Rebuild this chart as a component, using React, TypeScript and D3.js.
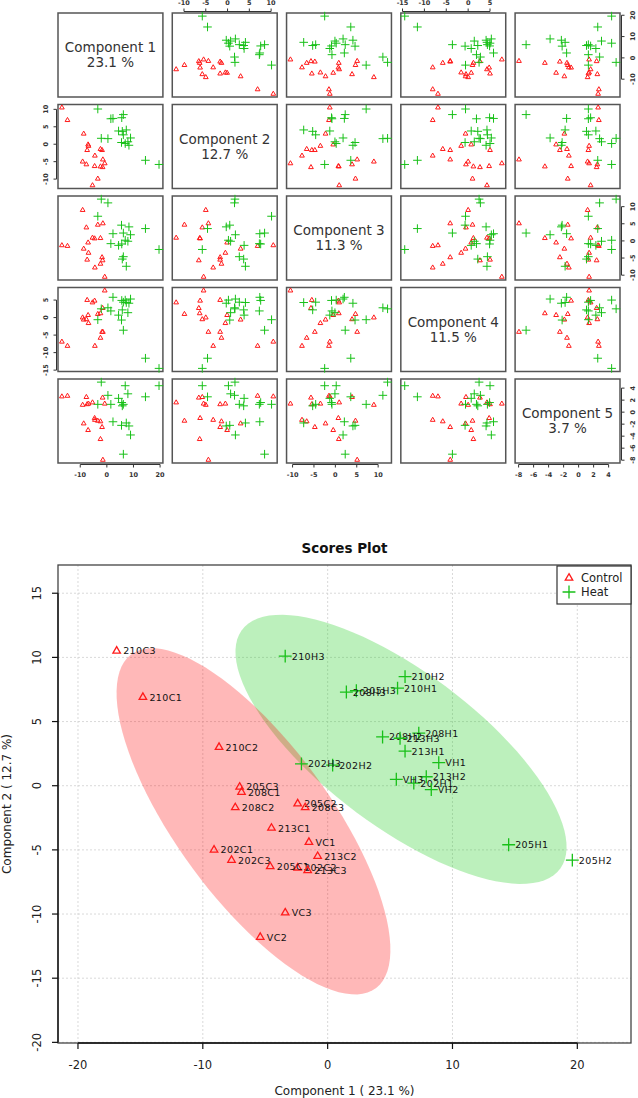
import React from 'react';
import * as d3 from 'd3';

// Samples, groups and PCA scores
const sampleNames = [
  '202C1', '202C2', '202C3', '205C1', '205C2', '205C3', '208C1', '208C2', '208C3',
  '210C1', '210C2', '210C3', '213C1', '213C2', '213C3', 'VC1', 'VC2', 'VC3',
  '202H1', '202H2', '202H3', '205H1', '205H2', '205H3', '208H1', '208H2', '208H3',
  '210H1', '210H2', '210H3', '213H1', '213H2', '213H3', 'VH1', 'VH2', 'VH3',
];
const sampleGroups = [
  'Control', 'Control', 'Control', 'Control', 'Control', 'Control', 'Control', 'Control', 'Control',
  'Control', 'Control', 'Control', 'Control', 'Control', 'Control', 'Control', 'Control', 'Control',
  'Heat', 'Heat', 'Heat', 'Heat', 'Heat', 'Heat', 'Heat', 'Heat', 'Heat',
  'Heat', 'Heat', 'Heat', 'Heat', 'Heat', 'Heat', 'Heat', 'Heat', 'Heat',
];
const pc1 = [-9.1, -2.4, -7.7, -4.6, -2.4, -7.05, -6.9, -7.4, -1.8, -14.8, -8.7, -16.9, -4.5, -0.8, -1.6, -1.5, -5.4, -3.4,
  6.9, 0.4, -2.1, 14.5, 19.6, 2.3, 7.3, 4.4, 1.5, 5.6, 6.2, -3.4, 6.2, 7.9, 5.8, 8.9, 8.3, 5.5];
const pc2 = [-5.0, -6.4, -5.8, -6.3, -1.4, -0.1, -0.5, -1.7, -1.7, 6.9, 3.0, 10.5, -3.3, -5.5, -6.6, -4.4, -11.8, -9.9,
  0.2, 1.6, 1.7, -4.6, -5.8, 7.4, 4.1, 3.8, 7.3, 7.6, 8.5, 10.1, 2.7, 0.7, 3.7, 1.8, -0.3, 0.5];
const pc3 = [9.0, 0.8, 3.9, 0.7, -6.7, -0.5, -3.5, -5.5, -4.8, -1.5, -2.3, -1.3, -7.8, -10.5, -5.7, 5.1, 0.9, 4.7,
  0.2, 11.1, 12.2, 3.6, -2.5, 2.1, -7.4, -1.3, -0.8, -0.9, 2.3, 7.2, -4.6, -0.1, -5.3, 1.8, 4.1, 4.6];
const pc4 = [0.0, 1.2, -0.5, 4.8, -5.8, 0.7, -1.6, 5.0, -4.1, -8.1, -0.6, -6.9, -8.1, 7.7, 2.7, -4.1, 4.3, 1.0,
  5.0, 2.8, 2.5, -11.6, -14.5, 5.8, 4.3, 0.7, 1.9, 4.9, -3.6, -0.6, 4.4, 1.4, 2.2, 5.3, 4.1, -0.7];
const pc5 = [1.2, -4.5, 2.5, -1.0, -1.55, -3.0, 1.4, 1.3, -2.5, 2.7, -1.9, 2.6, -1.3, 1.4, 2.4, -7.95, 1.6, -1.45,
  4.4, 2.8, 5.0, 2.55, 4.4, -1.6, -1.8, 2.3, 1.3, 1.6, -7.0, 1.3, 1.3, 3.05, 1.05, -3.8, -2.3, -2.2];

const componentNames = ['Component 1', 'Component 2', 'Component 3', 'Component 4', 'Component 5'];
const varianceLabels = ['23.1 %', '12.7 %', '11.3 %', '11.5 %', '3.7 %'];
const pairTicks = [
  [-10, 0, 10, 20],
  [-10, -5, 0, 5, 10],
  [-10, -5, 0, 5, 10],
  [-15, -10, -5, 0, 5],
  [-8, -6, -4, -2, 0, 2, 4],
];

const groupNames = ['Control', 'Heat'];
const groupColors = ['#FF1A1A', '#18C018'];
const ellipseColors = ['#FF0000', '#22CC22'];

const scoreXLim = [-21.6, 24.3];
const scoreYLim = [-20.05, 17.2];
const scoreXTicks = [-20, -10, 0, 10, 20];
const scoreYTicks = [-20, -15, -10, -5, 0, 5, 10, 15];

const FONT = '"DejaVu Sans", Verdana, sans-serif';

// 95% ellipse from the covariance of the group scores
function ellipse(xv: number[], yv: number[]) {
  const n = xv.length;
  const mx = d3.mean(xv) as number;
  const my = d3.mean(yv) as number;
  let sxx = 0, syy = 0, sxy = 0;
  for (let i = 0; i < n; i++) {
    sxx += (xv[i] - mx) ** 2;
    syy += (yv[i] - my) ** 2;
    sxy += (xv[i] - mx) * (yv[i] - my);
  }
  sxx /= n - 1; syy /= n - 1; sxy /= n - 1;
  const tr = sxx + syy, det = sxx * syy - sxy * sxy;
  const disc = Math.sqrt(tr * tr / 4 - det);
  const l1 = tr / 2 + disc, l2 = tr / 2 - disc;
  const phi = Math.atan2(l1 - sxx, sxy);
  const t = Math.sqrt(5.991);
  return d3.range(100).map(k => {
    const th = (k / 100) * 2 * Math.PI;
    const a = t * Math.sqrt(l1) * Math.cos(th);
    const b = t * Math.sqrt(l2) * Math.sin(th);
    return [mx + a * Math.cos(phi) - b * Math.sin(phi), my + a * Math.sin(phi) + b * Math.cos(phi)];
  });
}

export default function App() {
  const W = 638, H = 1098;
  const pcs = [pc1, pc2, pc3, pc4, pc5];

  // ---------- pairs plot ----------
  const colBand = d3.scaleBand<number>().domain(d3.range(5)).range([58, 620]).paddingInner(0.082);
  const rowBand = d3.scaleBand<number>().domain(d3.range(5)).range([13, 463]).paddingInner(0.082);
  const bw = colBand.bandwidth(), bh = rowBand.bandwidth();
  const domains = pcs.map(v => {
    const [lo, hi] = d3.extent(v) as [number, number];
    const p = (hi - lo) * 0.04;
    return [lo - p, hi + p];
  });
  const px = domains.map((d, j) => d3.scaleLinear().domain(d).range([colBand(j)!, colBand(j)! + bw]));
  const py = domains.map((d, i) => d3.scaleLinear().domain(d).range([rowBand(i)! + bh, rowBand(i)!]));

  const triSmall = d3.symbol().type(d3.symbolTriangle2).size(16)()!;
  const plusSmall = d3.symbol().type(d3.symbolPlus).size(26)()!;
  const triBig = d3.symbol().type(d3.symbolTriangle2).size(40)()!;
  const plusBig = d3.symbol().type(d3.symbolPlus).size(56)()!;

  const symbolFor = (g: string, big: boolean) =>
    g === 'Control' ? (big ? triBig : triSmall) : (big ? plusBig : plusSmall);
  const colorFor = (g: string) => groupColors[groupNames.indexOf(g)];

  const panels: React.ReactNode[] = [];
  for (let i = 0; i < 5; i++) {
    for (let j = 0; j < 5; j++) {
      const x0 = colBand(j)!, y0 = rowBand(i)!;
      if (i === j) {
        panels.push(
          <g key={`p${i}${j}`}>
            <rect x={x0} y={y0} width={bw} height={bh} fill="#fff" stroke="#555" strokeWidth={1.5} />
            <text x={x0 + bw / 2} y={y0 + bh / 2 - 7.7} textAnchor="middle" dominantBaseline="central"
              fontSize={13.5} fill="#333" fontFamily={FONT}>{componentNames[i]}</text>
            <text x={x0 + bw / 2} y={y0 + bh / 2 + 7.3} textAnchor="middle" dominantBaseline="central"
              fontSize={13.5} fill="#333" fontFamily={FONT}>{varianceLabels[i]}</text>
          </g>
        );
      } else {
        panels.push(
          <g key={`p${i}${j}`}>
            <rect x={x0} y={y0} width={bw} height={bh} fill="#fff" stroke="#555" strokeWidth={1.5} />
            {sampleNames.map((s, k) => (
              <path key={s} d={symbolFor(sampleGroups[k], false)}
                transform={`translate(${px[j](pcs[j][k])},${py[i](pcs[i][k])})`}
                fill="none" stroke={colorFor(sampleGroups[k])} strokeWidth={1} />
            ))}
          </g>
        );
      }
    }
  }

  const pairAxes: React.ReactNode[] = [];
  const tickFont = { fontSize: 6.5, fontWeight: 700, fill: '#333', fontFamily: FONT } as const;
  for (let j = 0; j < 5; j++) {
    const ticks = pairTicks[j];
    const sx = px[j];
    const top = j % 2 === 1;
    const ya = top ? rowBand(0)! - 1.5 : rowBand(4)! + bh + 1.5;
    const dir = top ? -1 : 1;
    pairAxes.push(
      <g key={`ax${j}`}>
        <line x1={sx(ticks[0])} x2={sx(ticks[ticks.length - 1])} y1={ya} y2={ya} stroke="#333" strokeWidth={1} />
        {ticks.map(t => (
          <g key={t}>
            <line x1={sx(t)} x2={sx(t)} y1={ya} y2={ya + dir * 3} stroke="#333" strokeWidth={1} />
            <text x={sx(t)} y={top ? 3 : ya + 10.5} textAnchor="middle" dominantBaseline="central" {...tickFont}>{t}</text>
          </g>
        ))}
      </g>
    );
  }
  for (let i = 0; i < 5; i++) {
    const ticks = pairTicks[i];
    const sy = py[i];
    const left = i % 2 === 1;
    const xa = left ? colBand(0)! - 1.5 : colBand(4)! + bw + 1.5;
    const dir = left ? -1 : 1;
    const lx = left ? 46 : 633;
    pairAxes.push(
      <g key={`ay${i}`}>
        <line x1={xa} x2={xa} y1={sy(ticks[0])} y2={sy(ticks[ticks.length - 1])} stroke="#333" strokeWidth={1} />
        {ticks.map(t => (
          <g key={t}>
            <line x1={xa} x2={xa + dir * 3} y1={sy(t)} y2={sy(t)} stroke="#333" strokeWidth={1} />
            <text transform={`translate(${lx},${sy(t)}) rotate(-90)`} textAnchor="middle" dominantBaseline="central" {...tickFont}>{t}</text>
          </g>
        ))}
      </g>
    );
  }

  // ---------- scores plot ----------
  const left = 58, right = 631, top = 565, bottom = 1043;
  const x = d3.scaleLinear().domain(scoreXLim).range([left, right]);
  const y = d3.scaleLinear().domain(scoreYLim).range([bottom, top]);
  const line = d3.line<number[]>().x(d => x(d[0])).y(d => y(d[1]));

  const ellipses = groupNames.map(g => {
    const idx = sampleGroups.map((s, k) => (s === g ? k : -1)).filter(k => k >= 0);
    return ellipse(idx.map(k => pc1[k]), idx.map(k => pc2[k]));
  });

  return (
    <svg width={W} height={H} style={{ position: 'absolute', left: 0, top: 0, background: '#fff' }}
      fontFamily={FONT}>
      {panels}
      {pairAxes}

      {/* Scores plot */}
      <defs>
        <clipPath id="plotClip">
          <rect x={left} y={top} width={right - left} height={bottom - top} />
        </clipPath>
      </defs>
      <text x={(left + right) / 2} y={548} textAnchor="middle" dominantBaseline="central"
        fontSize={13.5} fontWeight={700} fill="#111">Scores Plot</text>

      <g>
        {scoreXTicks.map(t => (
          <line key={`gx${t}`} x1={x(t)} x2={x(t)} y1={top} y2={bottom} stroke="#cfcfcf" strokeWidth={0.8} strokeDasharray="2,2" />
        ))}
        {scoreYTicks.map(t => (
          <line key={`gy${t}`} x1={left} x2={right} y1={y(t)} y2={y(t)} stroke="#cfcfcf" strokeWidth={0.8} strokeDasharray="2,2" />
        ))}
      </g>

      <g clipPath="url(#plotClip)">
        <path d={line(ellipses[1])! + 'Z'} fill={ellipseColors[1]} fillOpacity={0.3} stroke="none" />
        <path d={line(ellipses[0])! + 'Z'} fill={ellipseColors[0]} fillOpacity={0.28} stroke="none" />
      </g>

      <rect x={left} y={top} width={right - left} height={bottom - top} fill="none" stroke="#444" strokeWidth={1.3} />

      {sampleNames.map((s, k) => (
        <g key={`s${s}`}>
          <path d={symbolFor(sampleGroups[k], true)} transform={`translate(${x(pc1[k])},${y(pc2[k])})`}
            fill="none" stroke={colorFor(sampleGroups[k])} strokeWidth={1.3} />
          <text x={x(pc1[k]) + 6.5} y={y(pc2[k])} dominantBaseline="central" fontSize={9.5}
            letterSpacing={0.4} fill="#111">{s}</text>
        </g>
      ))}

      {/* axes */}
      <line x1={left} x2={left} y1={y(scoreYTicks[0])} y2={y(scoreYTicks[scoreYTicks.length - 1])} stroke="#111" strokeWidth={1.3} />
      {scoreYTicks.map(t => (
        <g key={`yt${t}`}>
          <line x1={left} x2={left - 6} y1={y(t)} y2={y(t)} stroke="#111" strokeWidth={1.2} />
          <text transform={`translate(37,${y(t)}) rotate(-90)`} textAnchor="middle" dominantBaseline="central"
            fontSize={11.5} fill="#222">{t}</text>
        </g>
      ))}
      <line x1={x(scoreXTicks[0])} x2={x(scoreXTicks[scoreXTicks.length - 1])} y1={bottom} y2={bottom} stroke="#111" strokeWidth={1.3} />
      {scoreXTicks.map(t => (
        <g key={`xt${t}`}>
          <line x1={x(t)} x2={x(t)} y1={bottom} y2={bottom + 6} stroke="#111" strokeWidth={1.2} />
          <text x={x(t)} y={1065} textAnchor="middle" dominantBaseline="central" fontSize={11.5} fill="#222">{t}</text>
        </g>
      ))}
      <text x={(left + right) / 2} y={1091} textAnchor="middle" dominantBaseline="central" fontSize={12} fill="#222">
        Component 1 ( 23.1 %)
      </text>
      <text transform={`translate(7,${(top + bottom) / 2}) rotate(-90)`} textAnchor="middle" dominantBaseline="central"
        fontSize={12} fill="#222">Component 2 ( 12.7 %)</text>

      {/* legend */}
      <rect x={557} y={top + 1} width={right - 557} height={38} fill="#fff" stroke="#333" strokeWidth={1.2} />
      {groupNames.map((g, k) => (
        <g key={`lg${g}`}>
          <path d={symbolFor(g, true)} transform={`translate(569,${578 + k * 14})`} fill="none"
            stroke={groupColors[k]} strokeWidth={1.3} />
          <text x={581} y={578 + k * 14} dominantBaseline="central" fontSize={11.5} fill="#222">{g}</text>
        </g>
      ))}
    </svg>
  );
}
